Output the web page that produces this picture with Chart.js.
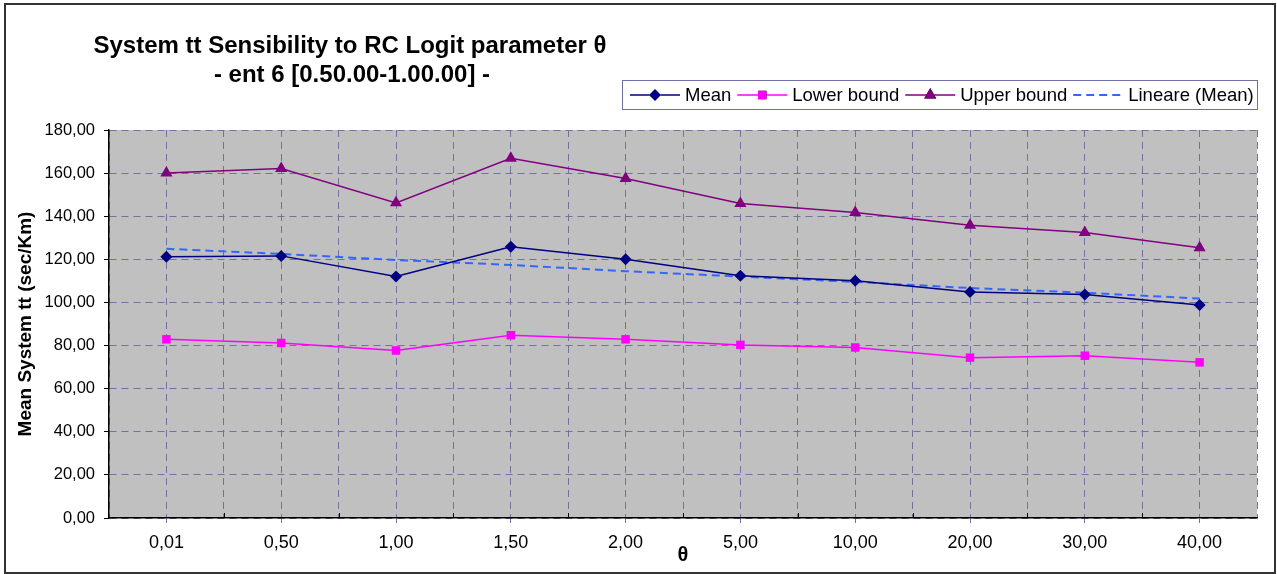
<!DOCTYPE html>
<html>
<head>
<meta charset="utf-8">
<script src="https://cdn.jsdelivr.net/npm/chart.js@4"></script>
<style>
html,body{margin:0;padding:0;background:#fff;overflow:hidden}
#wrap{position:relative;width:1277px;height:574px}
#frame{position:absolute;left:4px;top:3px;width:1268px;height:567px;border:2px solid #333;pointer-events:none}
canvas{position:absolute;left:0;top:0}
</style>
</head>
<body>
<div id="wrap"><canvas id="c" width="1277" height="574"></canvas><div id="frame"></div></div>
<script>
// ---- data ----
const categories = ['0,01','0,50','1,00','1,50','2,00','5,00','10,00','20,00','30,00','40,00'];
const meanValues  = [121.2, 121.6, 112.0, 125.8, 120.0, 112.4, 110.1, 104.9, 103.7, 98.8];
const lowerValues = [82.9, 81.2, 77.7, 84.8, 82.9, 80.3, 79.1, 74.4, 75.3, 72.2];
const upperValues = [160.0, 162.1, 146.2, 166.9, 157.5, 145.9, 141.7, 135.8, 132.4, 125.4];
const trendValues = [124.9, 122.5, 119.7, 117.4, 114.5, 112.0, 109.5, 106.7, 104.5, 101.8];
const yMin = 0, yMax = 180, yStep = 20;
const titleLines = ['System tt Sensibility to RC Logit parameter \u03b8', '- ent 6 [0.50.00-1.00.00] -'];
const yTitle = 'Mean System tt (sec/Km)';
const xTitle = '\u03b8';

const FONT = "'Liberation Sans', Arial, sans-serif";
const gridColor = '#72729c';
const gridDash = [7, 5];

const plotBg = {
  id: 'plotBg',
  beforeDraw(chart) {
    const {ctx, chartArea: a} = chart;
    ctx.save();
    ctx.fillStyle = '#c0c0c0';
    ctx.fillRect(a.left, a.top, a.right - a.left, a.bottom - a.top);
    ctx.restore();
  }
};

const decorations = {
  id: 'decorations',
  afterDraw(chart) {
    const {ctx, chartArea: a} = chart;
    const x = chart.scales.x;
    ctx.save();
    // inner tick marks at category boundaries
    ctx.strokeStyle = '#000';
    ctx.lineWidth = 1;
    const n = categories.length;
    const w = (a.right - a.left) / n;
    for (let i = 1; i < n; i++) {
      const px = Math.round(x.getPixelForValue(i) - w / 2) + 0.5;
      ctx.beginPath(); ctx.moveTo(px, a.bottom); ctx.lineTo(px, a.bottom - 5); ctx.stroke();
    }
    // title
    ctx.fillStyle = '#000';
    ctx.textAlign = 'center';
    ctx.textBaseline = 'middle';
    ctx.font = 'bold 24px ' + FONT;
    ctx.fillText(titleLines[0], 350, 46);
    ctx.fillText(titleLines[1], 352, 75);
    // legend
    const ds = chart.data.datasets;
    const bx = 622, by = 80, bw = 635, bh = 29;
    ctx.fillStyle = '#fff';
    ctx.fillRect(bx, by, bw, bh);
    ctx.strokeStyle = '#7070a0';
    ctx.lineWidth = 1;
    ctx.strokeRect(bx + 0.5, by + 0.5, bw, bh);
    ctx.font = '18.5px ' + FONT;
    ctx.textAlign = 'left';
    const cy = by + bh / 2 + 0.5;
    let lx = 630;
    ds.forEach(d => {
      ctx.save();
      ctx.strokeStyle = d.borderColor;
      ctx.lineWidth = d.borderWidth || 1.5;
      ctx.setLineDash(d.borderDash || []);
      ctx.beginPath(); ctx.moveTo(lx, cy); ctx.lineTo(lx + 50, cy); ctx.stroke();
      ctx.restore();
      if (d.pointRadius > 0) {
        Chart.helpers.drawPoint(ctx, {pointStyle: d.pointStyle, radius: d.pointRadius, borderWidth: 0}, lx + 25, cy);
        ctx.fillStyle = d.backgroundColor;
        ctx.fill();
      }
      ctx.fillStyle = '#000';
      ctx.fillText(d.label, lx + 55, cy + 1);
      lx += 55 + ctx.measureText(d.label).width + 6;
    });
    ctx.restore();
  }
};

const ctx = document.getElementById('c').getContext('2d');
new Chart(ctx, {
  type: 'line',
  data: {
    labels: categories,
    datasets: [
      {label: 'Mean', data: meanValues, borderColor: '#000080', backgroundColor: '#000080',
       borderWidth: 1.5, pointStyle: 'rectRot', pointRadius: 6, pointBorderWidth: 0, tension: 0},
      {label: 'Lower bound', data: lowerValues, borderColor: '#ff00ff', backgroundColor: '#ff00ff',
       borderWidth: 1.5, pointStyle: 'rect', pointRadius: 6, pointBorderWidth: 0, tension: 0},
      {label: 'Upper bound', data: upperValues, borderColor: '#800080', backgroundColor: '#800080',
       borderWidth: 1.5, pointStyle: 'triangle', pointRadius: 7, pointBorderWidth: 0, tension: 0},
      {label: 'Lineare (Mean)', data: trendValues, borderColor: '#3366ff', backgroundColor: '#3366ff',
       borderWidth: 2, borderDash: [8, 5], pointRadius: 0, tension: 0}
    ]
  },
  options: {
    responsive: false,
    animation: false,
    devicePixelRatio: 1,
    layout: {padding: {left: 6, top: 130, right: 20, bottom: 5}},
    plugins: {legend: {display: false}, title: {display: false}, tooltip: {enabled: false}},
    scales: {
      x: {
        type: 'category',
        offset: true,
        grid: {offset: false, color: gridColor, lineWidth: 1, tickLength: 5, tickColor: gridColor, tickBorderDash: []},
        border: {color: '#000', width: 1.5, dash: gridDash},
        ticks: {font: {family: FONT, size: 18}, color: '#000', padding: 9, maxRotation: 0, autoSkip: false},
        title: {display: true, text: xTitle, color: '#000', font: {family: FONT, size: 20, weight: 'bold'}, padding: {top: 0, bottom: 2}},
        afterFit(s) { s.height = 51; }
      },
      x2: {
        type: 'category',
        labels: categories,
        position: 'bottom',
        offset: true,
        grid: {offset: true, color: gridColor, lineWidth: 1, drawTicks: false},
        border: {display: false, dash: gridDash},
        ticks: {display: false},
        afterFit(s) { s.height = 0; }
      },
      y: {
        min: yMin, max: yMax,
        ticks: {stepSize: yStep, font: {family: FONT, size: 16.5}, color: '#000', padding: 9,
                callback: v => v.toFixed(2).replace('.', ',')},
        grid: {color: gridColor, lineWidth: 1, tickLength: 5, tickColor: '#000', tickBorderDash: []},
        border: {color: '#000', width: 1.5, dash: gridDash},
        title: {display: true, text: yTitle, color: '#000', font: {family: FONT, size: 19, weight: 'bold'}, padding: {top: 8, bottom: 0}},
        afterFit(s) { s.width = 103; }
      }
    }
  },
  plugins: [plotBg, decorations]
});
</script>
</body>
</html>
